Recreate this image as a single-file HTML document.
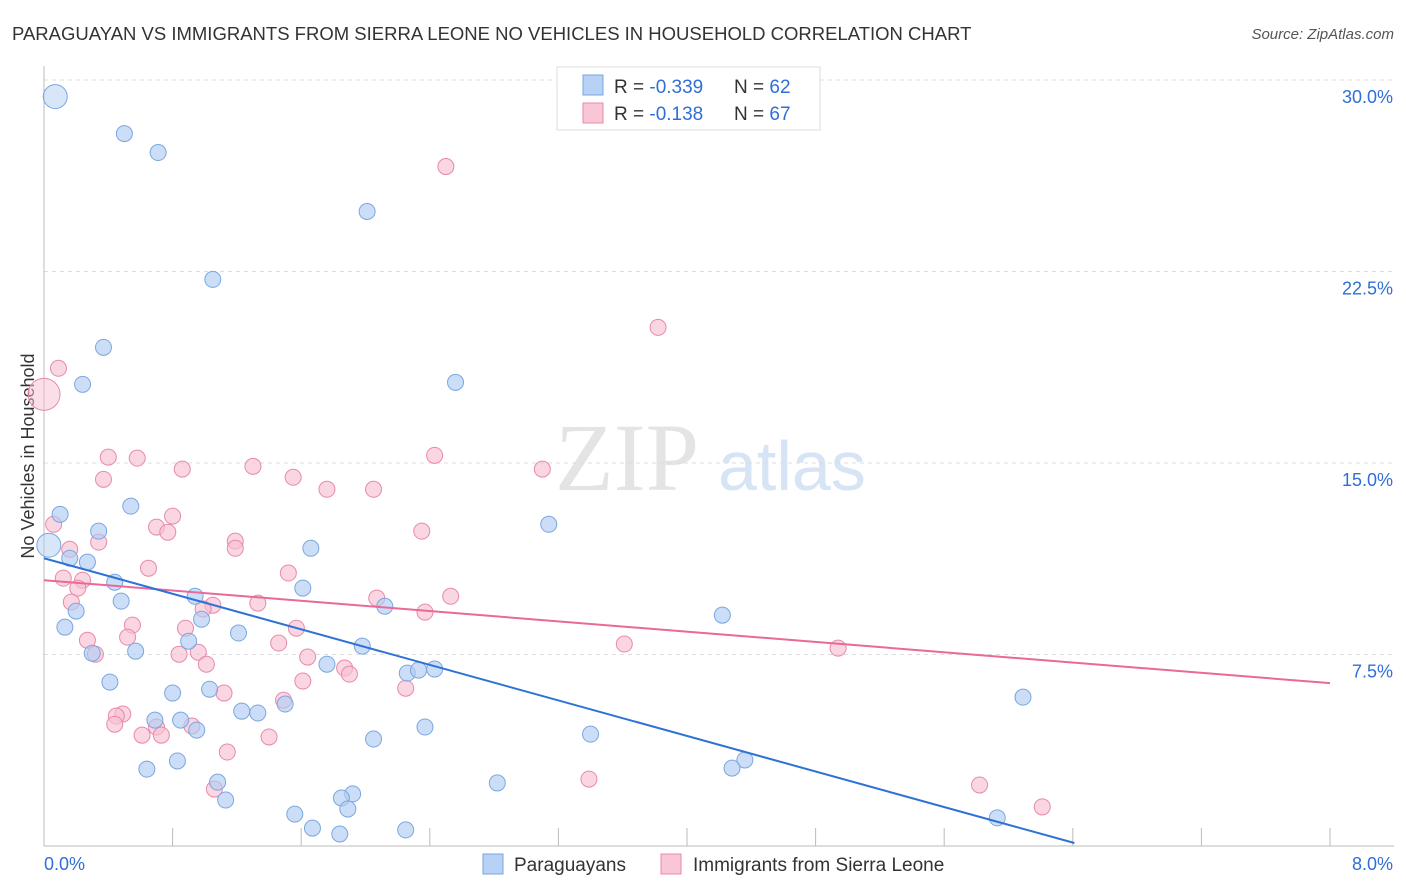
<!DOCTYPE html>
<html><head><meta charset="utf-8"><style>
body{margin:0;background:#fff;font-family:"Liberation Sans",sans-serif;}
#wrap{position:relative;width:1406px;height:892px;overflow:hidden;}
</style></head><body>
<div id="wrap">
<svg id="svg" width="1406" height="892" xmlns="http://www.w3.org/2000/svg">
<text x="12" y="40" font-size="18.5" fill="#333">PARAGUAYAN VS IMMIGRANTS FROM SIERRA LEONE NO VEHICLES IN HOUSEHOLD CORRELATION CHART</text>
<text x="1394" y="39" font-size="15" fill="#555" font-style="italic" text-anchor="end">Source: ZipAtlas.com</text>
<text x="555" y="490" font-size="96" fill="#e4e4e4" font-family="Liberation Serif,serif">ZIP</text>
<text x="718" y="490" font-size="70" fill="#d6e4f5">atlas</text>
<text transform="translate(34,456) rotate(-90)" font-size="18" fill="#333" text-anchor="middle">No Vehicles in Household</text>
<g id="grid"></g><g id="marks"></g>
<g>
<rect x="557" y="67" width="263" height="63" fill="#fff" stroke="#ddd"/>
<rect x="583" y="75" width="20" height="20" fill="#b7d2f4" stroke="#7aa7e0"/>
<rect x="583" y="103" width="20" height="20" fill="#f8c6d5" stroke="#e88aa8"/>
<text x="614" y="93" font-size="19" fill="#333">R = <tspan fill="#2f6fd6">-0.339</tspan><tspan x="734">N = </tspan><tspan fill="#2f6fd6">62</tspan></text>
<text x="614" y="120" font-size="19" fill="#333">R = <tspan fill="#2f6fd6"> -0.138</tspan><tspan x="734">N = </tspan><tspan fill="#2f6fd6">67</tspan></text>
</g>
<g>
<rect x="483" y="854" width="20" height="20" fill="#b7d2f4" stroke="#7aa7e0"/>
<text x="514" y="871" font-size="19" fill="#333">Paraguayans</text>
<rect x="661" y="854" width="20" height="20" fill="#f8c6d5" stroke="#e88aa8"/>
<text x="693" y="871" font-size="19" fill="#333">Immigrants from Sierra Leone</text>
</g>
</svg>
</div>
<script>
const yTicks=[7.5,15,22.5,30];
const yTickLabels=["7.5%","15.0%","22.5%","30.0%"];
const xTickLabels=["0.0%","8.0%"];
const blueX=[0.07,0.50,0.71,2.01,1.05,0.37,0.24,2.56,0.54,0.10,3.14,0.34,0.03,1.66,0.16,0.27,0.44,1.61,0.94,0.48,0.20,2.12,0.98,4.22,0.13,1.21,0.90,1.98,0.57,0.30,1.76,2.26,2.33,2.43,0.41,1.03,0.80,6.09,1.50,1.23,1.33,0.69,0.85,0.95,2.37,3.40,2.05,0.83,0.64,4.36,4.28,1.08,2.82,1.13,1.92,1.85,1.89,1.56,1.67,1.84,2.25,5.93];
const blueY=[29.35,27.9,27.16,24.85,22.19,19.53,18.08,18.16,13.31,12.99,12.60,12.33,11.78,11.66,11.27,11.12,10.33,10.10,9.78,9.59,9.20,9.39,8.88,9.04,8.57,8.34,8.02,7.83,7.63,7.55,7.12,6.77,6.89,6.93,6.42,6.14,5.99,5.83,5.56,5.28,5.21,4.93,4.93,4.54,4.66,4.38,4.19,3.33,3.01,3.37,3.05,2.50,2.47,1.80,2.04,1.88,1.45,1.25,0.70,0.47,0.63,1.10];
const pinkX=[2.50,3.82,0.09,0.0,0.40,0.58,2.43,1.30,0.86,3.10,1.55,0.37,1.76,2.05,0.06,0.80,0.70,0.77,2.35,1.19,1.19,0.16,0.34,0.65,1.52,0.12,0.24,0.21,2.53,2.07,1.05,1.33,0.17,0.99,2.37,1.57,0.55,0.88,0.27,0.52,1.46,3.61,4.94,0.32,0.84,0.96,1.64,1.01,1.87,1.90,1.61,1.12,2.25,1.49,0.49,0.45,0.44,0.70,0.92,0.61,0.73,1.14,1.40,3.39,5.82,1.06,6.21];
const pinkY=[26.61,20.31,18.71,17.69,15.23,15.19,15.30,14.87,14.76,14.76,14.44,14.36,13.97,13.97,12.60,12.92,12.49,12.29,12.33,11.94,11.66,11.62,11.90,10.88,10.69,10.49,10.41,10.10,9.78,9.71,9.43,9.51,9.55,9.28,9.16,8.53,8.65,8.53,8.06,8.18,7.95,7.91,7.75,7.51,7.51,7.59,7.40,7.12,6.97,6.73,6.46,5.99,6.18,5.71,5.17,5.09,4.77,4.66,4.70,4.34,4.34,3.68,4.27,2.62,2.39,2.23,1.53];
const blueBig=[0,12];const pinkBig=[3];
const blueTrend=[11.27,-1.74];const blueTrendEnd=[0,6.41];
const pinkTrend=[10.41,-0.504];const pinkTrendEnd=[0,8];
const NS="http://www.w3.org/2000/svg";
const X0=44,X1=1330,Y0=846,Y30=80;
const sx=v=>X0+v/8*(X1-X0);
const sy=v=>Y0-v/30*(Y0-Y30);
function mk(tag,attrs,parent){const e=document.createElementNS(NS,tag);for(const k in attrs)e.setAttribute(k,attrs[k]);parent.appendChild(e);return e;}
const grid=document.getElementById('grid'),marks=document.getElementById('marks');
yTicks.forEach((t,i)=>{
 const l=mk('line',{x1:X0,x2:1394,y1:sy(t),y2:sy(t),stroke:'#ddd','stroke-dasharray':'4,4'},grid);
 
 
 const tx=mk('text',{x:1393,y:sy(t)+23,'font-size':18,fill:'#2f6fd6','text-anchor':'end'},grid);
 tx.textContent=yTickLabels[i];
 
 
});
const ax=mk('line',{x1:X0,x2:1394,y1:Y0,y2:Y0,stroke:'#bbb'},grid);


const ay=mk('line',{x1:X0,x2:X0,y1:66,y2:Y0,stroke:'#bbb'},grid);


for(let i=1;i<=10;i++){const t=mk('line',{x1:sx(i*0.8),x2:sx(i*0.8),y1:828,y2:Y0,stroke:'#bbb'},grid);
 
 }
[[0,44,'start'],[8,1393,'end']].forEach((d,i)=>{const t=mk('text',{x:d[1],y:870,'font-size':18,fill:'#2f6fd6','text-anchor':d[2]},grid);t.textContent=xTickLabels[i];
 
 });
function pts(xs,ys,big,fill,stroke,name){xs.forEach((x,i)=>{
 const isBig=big.includes(i);
 const c=mk('circle',{cx:sx(x),cy:sy(ys[i]),r:isBig?(name==='pink-point'?16:12):8,fill:fill,'fill-opacity':isBig?0.5:0.65,stroke:stroke,'stroke-width':1},marks);
 
 
});}
pts(pinkX,pinkY,pinkBig,'#f8c0d2','#e88aa8','pink-point');
pts(blueX,blueY,blueBig,'#b0cdf2','#7aa7e0','blue-point');
function trend(c,e,col,name){const l=mk('line',{x1:sx(e[0]),y1:sy(c[0]+c[1]*e[0]),x2:sx(e[1]),y2:sy(c[0]+c[1]*e[1]),stroke:col,'stroke-width':2},marks);
 
 }
trend(pinkTrend,pinkTrendEnd,'#e8699a','pink-trend-line');
trend(blueTrend,blueTrendEnd,'#2f72d6','blue-trend-line');
</script>
</body></html>
